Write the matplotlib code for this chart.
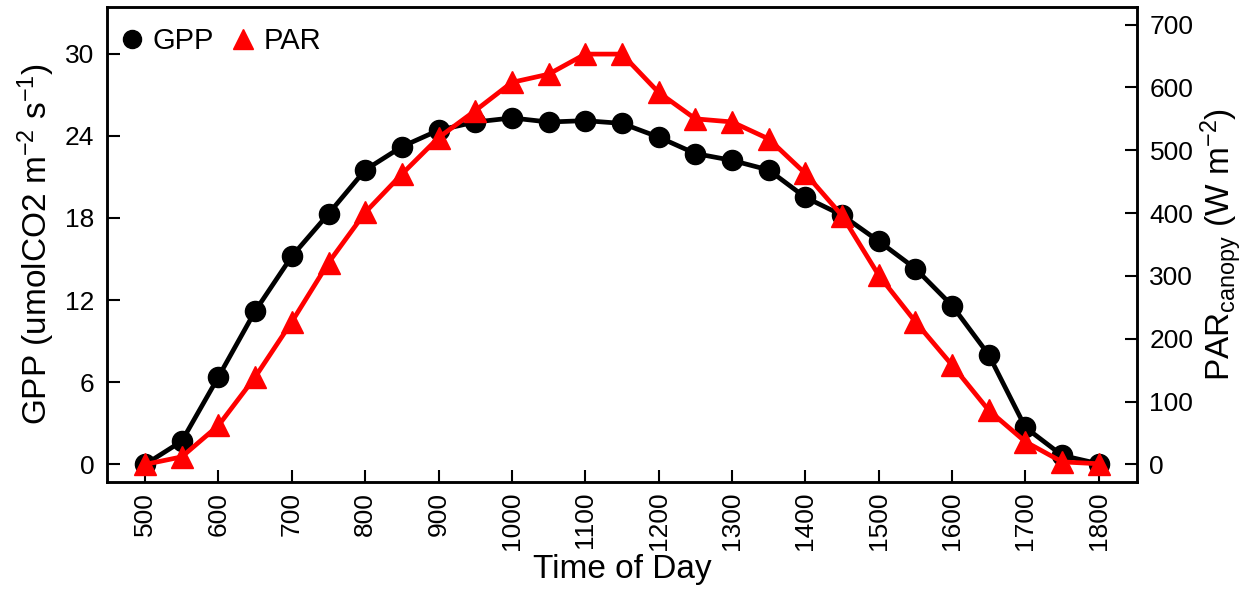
import numpy as np
import matplotlib
matplotlib.use("Agg")
import matplotlib.pyplot as plt
from matplotlib.lines import Line2D

plt.rcParams["font.family"] = ["Liberation Sans", "DejaVu Sans"]
plt.rcParams["mathtext.default"] = "regular"

# time of day (hhmm)
time_of_day = [500, 550, 600, 650, 700, 750, 800, 850, 900, 950, 1000, 1050, 1100, 1150,
               1200, 1250, 1300, 1350, 1400, 1450, 1500, 1550, 1600, 1650, 1700, 1750, 1800]
# gross primary production (umolCO2 m-2 s-1)
gpp = [0.0, 1.7, 6.4, 11.2, 15.2, 18.3, 21.5, 23.2, 24.4, 25.0, 25.3, 25.0, 25.1, 24.9,
       23.9, 22.7, 22.2, 21.5, 19.5, 18.2, 16.3, 14.3, 11.6, 8.0, 2.7, 0.66, 0.05]
# canopy PAR (W m-2)
par = [0, 12, 62, 139, 227, 321, 401, 462, 520, 563, 608, 621, 653, 653,
       592, 550, 545, 518, 463, 396, 301, 227, 158, 86, 36, 4, 1]

gpp_ticks = [0, 6, 12, 18, 24, 30]
par_ticks = [0, 100, 200, 300, 400, 500, 600, 700]
x_ticks = list(range(500, 1801, 100))


def style_axis(ax):
    for sp in ax.spines.values():
        sp.set_linewidth(1.8)
    ax.tick_params(which="both", direction="in", length=9, width=1.5,
                   labelsize=19)
    ax.tick_params(axis="y", pad=9)
    ax.tick_params(axis="x", pad=7)


fig = plt.figure(figsize=(12.57, 5.96), dpi=100)
ax = fig.add_axes([0.0851, 0.1913, 0.9045 - 0.0851, 0.9883 - 0.1913])
ax2 = ax.twinx()

ax.plot(time_of_day, gpp, color="black", lw=3.4, marker="o", markersize=14.5,
        zorder=3)
ax2.plot(time_of_day, par, color="#ff0000", lw=3.4, marker="^", markersize=16,
         zorder=3)

ax.set_xlim(448, 1852)
ax.set_ylim(-1.28, 33.4)
ax2.set_ylim(-28, 728)

ax.set_xticks(x_ticks)
ax.set_xticklabels([str(t) for t in x_ticks], rotation=90)
ax.set_yticks(gpp_ticks)
ax2.set_yticks(par_ticks)

style_axis(ax)
style_axis(ax2)

ax.set_xlabel("Time of Day", fontsize=24)
ax.xaxis.label.set_va("center")
ax.xaxis.set_label_coords(0.5, -0.185)
ax.set_ylabel("GPP (umolCO2 m$^{-2}$ s$^{-1}$)", fontsize=24)
ax.yaxis.label.set_va("center")
ax.yaxis.set_label_coords(-0.069, 0.5)
ax2.set_ylabel("PAR$_{canopy}$ (W m$^{-2}$)", fontsize=24)
ax2.yaxis.label.set_va("center")
ax2.yaxis.set_label_coords(1.082, 0.5)

handles = [
    Line2D([], [], color="black", marker="o", linestyle="none", markersize=13),
    Line2D([], [], color="#ff0000", marker="^", linestyle="none", markersize=15),
]
ax2.legend(handles, ["GPP", "PAR"], loc="upper left", ncol=2, frameon=False,
           fontsize=21, handlelength=0.8, handletextpad=0.3, columnspacing=0.6,
           borderaxespad=0.2, bbox_to_anchor=(-0.004, 0.995))

fig.savefig("out.png", dpi=100)
